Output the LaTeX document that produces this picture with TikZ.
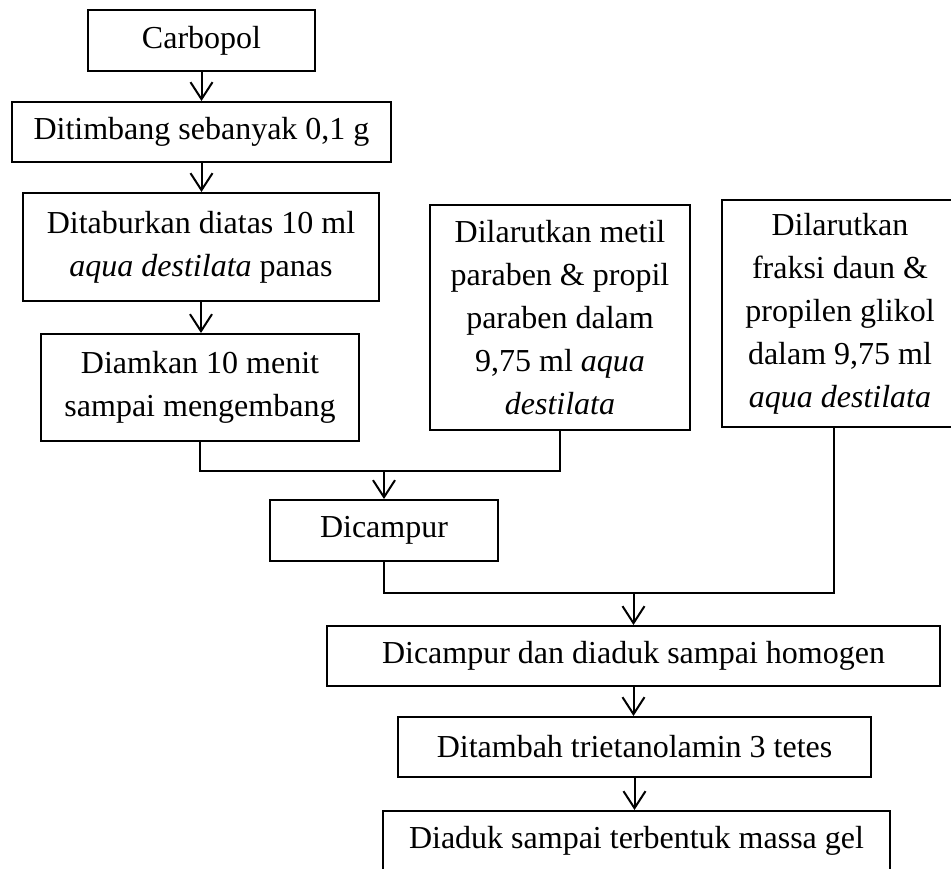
\documentclass[tikz,border=0pt]{standalone}
\usepackage{fontspec}
\setmainfont{Liberation Serif}
\usetikzlibrary{arrows.meta}
\begin{document}
\begin{tikzpicture}[x=1pt, y=-1pt, line width=2pt,
        font=\fontsize{32pt}{43pt}\selectfont,
        box/.style={draw, rectangle, inner sep=0pt, align=center},
        arr/.style={-{Straight Barb[length=17pt, width=22pt]}}]
        \useasboundingbox (0,0) rectangle (951,868);
        \clip (0,0) rectangle (951,868);
        % carbopol base
        \node[box, minimum width=227pt, minimum height=61pt] (carbopol) at (201.5,40.5) {Carbopol};
        \node[box, minimum width=379pt, minimum height=60pt] (timbang) at (201.5,132) {Ditimbang sebanyak 0,1 g};
        \node[box, minimum width=356pt, minimum height=108pt] (tabur) at (201,247) {Ditaburkan diatas 10 ml\\\textit{aqua destilata} panas};
        \node[box, minimum width=318pt, minimum height=107pt] (diam) at (200,387.5) {Diamkan 10 menit\\sampai mengembang};
        % side solutions
        \node[box, minimum width=260pt, minimum height=225pt] (metil) at (560,317.5) {Dilarutkan metil\\paraben \& propil\\paraben dalam\\9,75 ml \textit{aqua}\\\textit{destilata}};
        \node[box, minimum width=236pt, minimum height=227pt] (fraksi) at (840,313.5) {Dilarutkan\\fraksi daun \&\\propilen glikol\\dalam 9,75 ml\\\textit{aqua destilata}};
        % mixing steps
        \node[box, minimum width=228pt, minimum height=61pt] (campur) at (384,530.5) {Dicampur};
        \node[box, minimum width=613pt, minimum height=60pt] (aduk) at (633.5,656) {Dicampur dan diaduk sampai homogen};
        \node[box, minimum width=473pt, minimum height=60pt] (tambah) at (634.5,747) {Ditambah trietanolamin 3 tetes};
        \node[box, minimum width=507pt, minimum height=60pt] (gel) at (636.5,841) {Diaduk sampai terbentuk massa gel};
        \draw[arr] (carbopol.south) -- (carbopol.south |- timbang.north);
        \draw[arr] (timbang.south) -- (timbang.south |- tabur.north);
        \draw[arr] (tabur.south) -- (tabur.south |- diam.north);
        \draw (diam.south) -- ++(0,29) coordinate (j1) -| (metil.south);
        \draw[arr] (j1 -| campur.north) -- (campur.north);% Arrow
        \draw (campur.south) -- ++(0,31) coordinate (j2) -| ([xshift=-6pt]fraksi.south);
        \draw[arr] (j2 -| aduk.north) -- (aduk.north);% Arrow
        \draw[arr] (aduk.south) -- (aduk.south |- tambah.north);
        \draw[arr] (tambah.south) -- (tambah.south |- gel.north);
    \end{tikzpicture}
\end{document}
